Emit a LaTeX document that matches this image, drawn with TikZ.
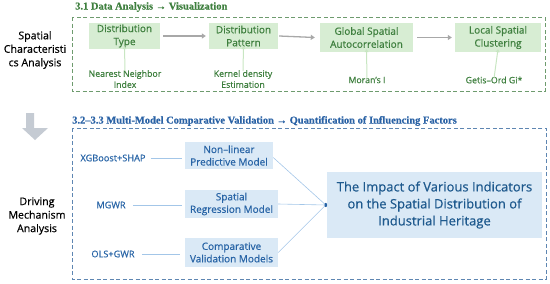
\documentclass[tikz,border=0pt]{standalone}
\usepackage{fontspec}
\setmainfont{Open Sans}[FakeBold=0.6]
\newfontfamily\titlefont{Liberation Serif}[FakeBold=0.5]
\usetikzlibrary{arrows.meta}
\definecolor{gfill}{HTML}{D7EDD3}
\definecolor{gtext}{HTML}{3E7F3E}
\definecolor{gdash}{HTML}{6E9B6E}
\definecolor{garrow}{HTML}{C8E6C2}
\definecolor{greyar}{HTML}{A8A8A8}
\definecolor{bfill}{HTML}{DAE9F6}
\definecolor{btext}{HTML}{2864A6}
\definecolor{bdark}{HTML}{1F5A8E}
\definecolor{bdash}{HTML}{5E86B2}
\definecolor{bline}{HTML}{A3C6E8}
\definecolor{btitle}{HTML}{2A62A5}
\definecolor{bigarrow}{HTML}{C5CBD3}
\tikzset{
  gbox/.style={fill=gfill,text=gtext,align=center,font=\fontsize{10}{13}\selectfont,inner sep=0pt},
  gsub/.style={text=gtext,align=center,font=\fontsize{8.8}{11}\selectfont,inner sep=1pt},
  bbox/.style={fill=bfill,text=btext,align=center,font=\fontsize{10}{12.5}\selectfont,inner sep=0pt},
  mlabel/.style={text=btext,font=\fontsize{9.2}{11}\selectfont,inner sep=1pt},
  sidelabel/.style={align=center,font=\fontsize{10.6}{13.5}\selectfont,inner sep=0pt},
  garr/.style={draw=greyar,line width=1.3pt,-{Triangle[length=4pt,width=5pt]}},
  uparr/.style={draw=garrow,line width=1pt,-{Triangle[length=3pt,width=4pt]}},
  bl/.style={draw=bline,line width=0.6pt},
  dashframe/.style={dashed,dash pattern=on 4pt off 2.5pt,line width=0.9pt},
}
\begin{document}
\begin{tikzpicture}[x=1pt,y=-1pt]
\useasboundingbox (0,0) rectangle (550,284);
% top frame
\draw[dashframe,draw=gdash] (72,17) rectangle (545,91);
\node[anchor=west,text=gtext,font=\titlefont\bfseries\fontsize{10.5}{12}\selectfont,inner sep=0pt] (ttitle) at (75,7) {3.1 Data Analysis → Visualization};
\node[sidelabel] (sca) at (35,50) {Spatial\\Characteristi\\cs Analysis};
\node[gbox,minimum width=71pt,minimum height=26pt] (dt) at (124.5,36) {Distribution\\Type};
\node[gbox,minimum width=69pt,minimum height=26pt] (dp) at (243.5,36) {Distribution\\Pattern};
\node[gbox,minimum width=93pt,minimum height=29pt] (gsa) at (366.5,37.5) {Global Spatial\\Autocorrelation};
\node[gbox,minimum width=86pt,minimum height=29pt] (lsc) at (498,37.5) {Local Spatial\\Clustering};
\draw[garr] ([xshift=3pt]dt.east) -- ([xshift=-3pt]dp.west);
\draw[garr] ([xshift=1pt]dp.east) -- ([xshift=-5pt]gsa.west);
\draw[garr] ([xshift=4pt]gsa.east) -- ([xshift=-3pt]lsc.west);
\node[gsub] (nn) at (125,79) {Nearest Neighbor\\Index};
\node[gsub] (kd) at (243,79) {Kernel density\\Estimation};
\node[gsub] (mi) at (367,80) {Moran's I};
\node[gsub] (go) at (494,80) {Getis–Ord Gi*};
\draw[uparr] ([yshift=-2pt]nn.north) -- ([yshift=3pt]dt.south);
\draw[uparr] ([yshift=-2pt]kd.north) -- ([yshift=3pt]dp.south);
\draw[uparr] ([yshift=-3pt]mi.north) -- ([yshift=3pt]gsa.south);
\draw[uparr] ([yshift=-3pt]go.north) -- ([yshift=3pt]lsc.south);
% big down arrow
\fill[bigarrow] (26,113) -- (34,113) -- (34,128) -- (48,128) -- (35,140) -- (22,128) -- (26,128) -- cycle;
% bottom frame
\draw[dashframe,draw=bdash] (72,128) rectangle (546,279);
\node[anchor=west,text=btitle,font=\titlefont\bfseries\fontsize{10.5}{12}\selectfont,inner sep=0pt] (btitle) at (72,121) {3.2–3.3 Multi-Model Comparative Validation → Quantification of Influencing Factors};
\node[sidelabel] (dma) at (37,216) {Driving\\Mechanism\\Analysis};
\node[mlabel] (xg) at (113,158) {XGBoost+SHAP};
\node[mlabel] (mg) at (111,205) {MGWR};
\node[mlabel] (ols) at (113,254) {OLS+GWR};
\node[bbox,minimum width=88pt,minimum height=27pt] (nl) at (229,155.5) {Non–linear\\Predictive Model};
\node[bbox,minimum width=93pt,minimum height=28pt] (sr) at (231.5,204) {Spatial\\Regression Model};
\node[bbox,minimum width=93pt,minimum height=29pt] (cv) at (231.5,252.5) {Comparative\\Validation Models};
\draw[bl] ([xshift=4pt]xg.east) -- ([xshift=-3pt]xg.east -| nl.west);
\draw[bl] ([xshift=6pt]mg.east) -- ([xshift=-3pt]mg.east -| sr.west);
\draw[bl] ([xshift=6pt]ols.east) -- ([xshift=-5pt]ols.east -| cv.west);
\node[fill=bfill,text=bdark,align=center,font=\fontsize{13}{17}\selectfont,minimum width=215pt,minimum height=66pt,inner sep=0pt] (big) at (434.5,205) {The Impact of Various Indicators\\on the Spatial Distribution of\\Industrial Heritage};
\coordinate (cp) at ([xshift=-1pt]big.west);
\draw[bl] ([yshift=-2pt]nl.east) -- (cp);
\draw[bl] (sr.east) -- (cp);
\draw[bl] (cv.east) -- (cp);
\fill[btext] (cp) ellipse (1.3pt and 2.2pt);
\end{tikzpicture}
\end{document}
